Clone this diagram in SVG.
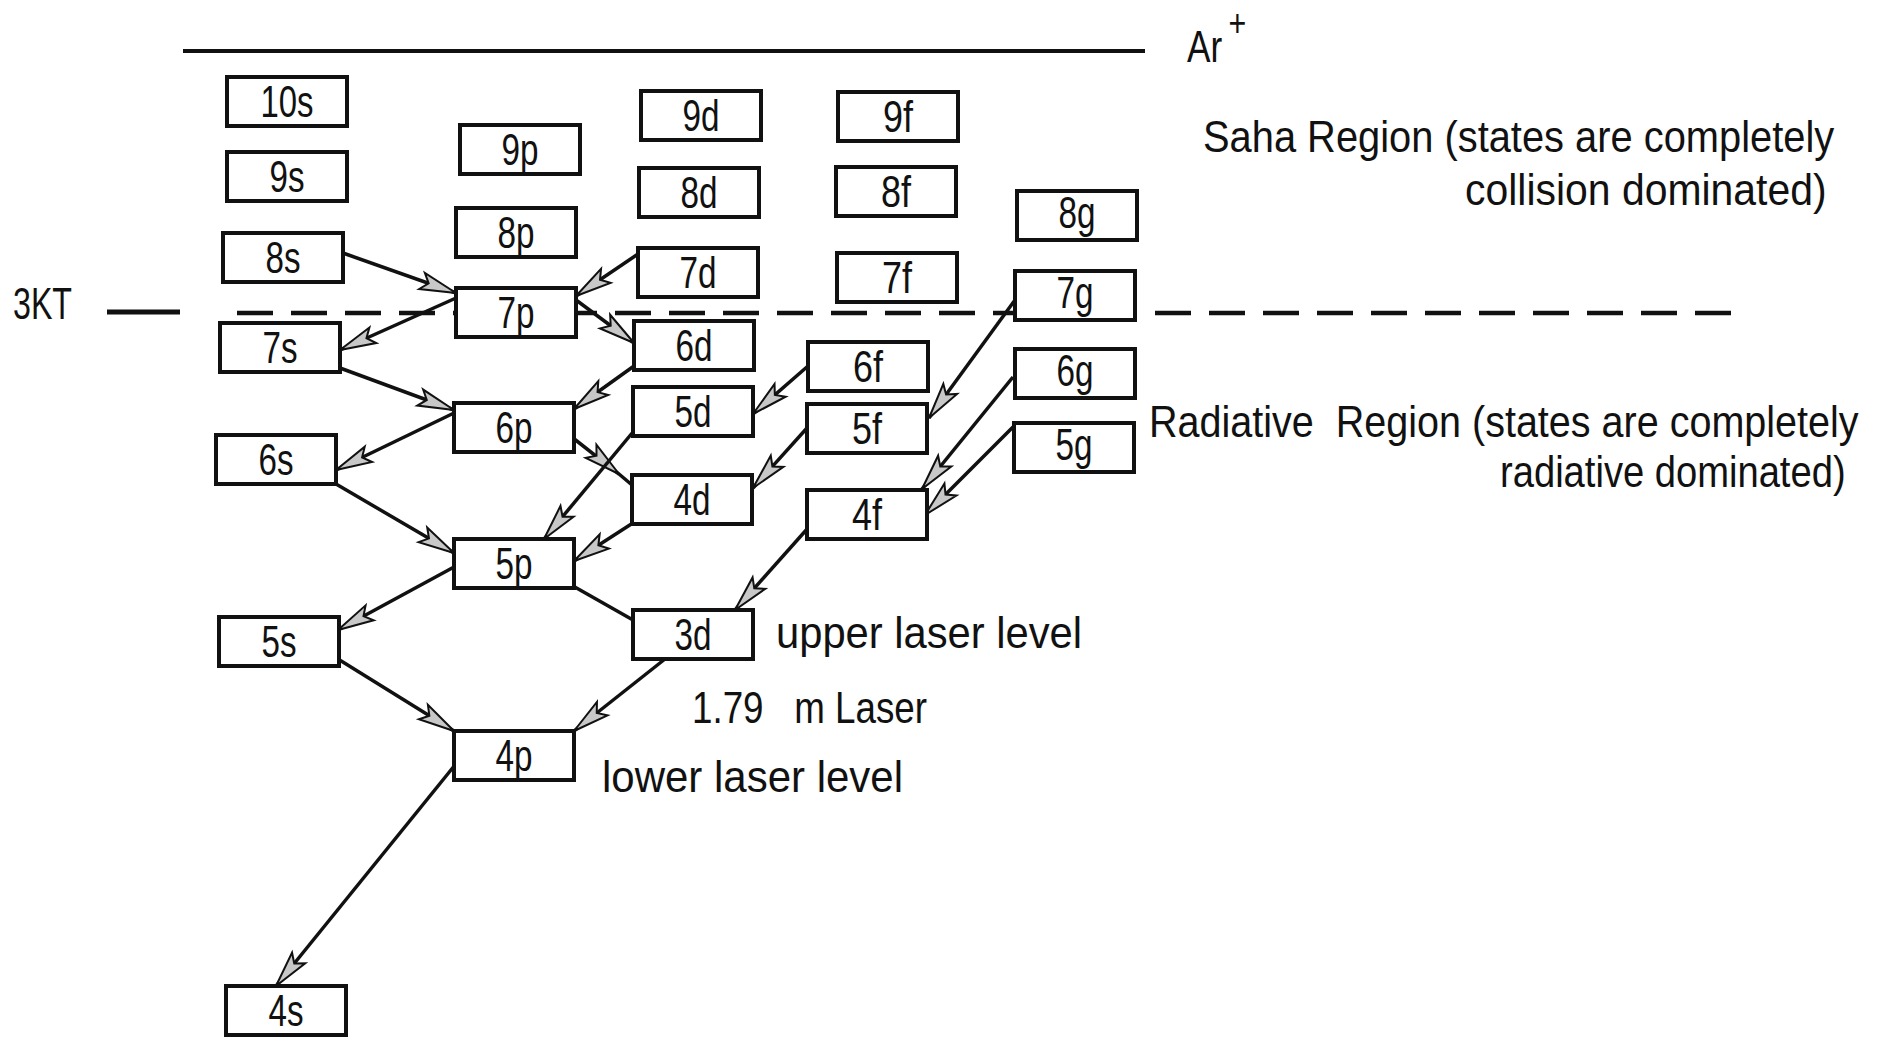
<svg xmlns="http://www.w3.org/2000/svg" width="1883" height="1039" viewBox="0 0 1883 1039">
<defs>
<style>
.box{fill:#fff;stroke:#111;stroke-width:4;}
.lbl{font-family:"Liberation Sans",Arial,sans-serif;font-size:44px;fill:#111;text-anchor:middle;}
.txt{font-family:"Liberation Sans",Arial,sans-serif;font-size:44px;fill:#111;}
.con{fill:none;stroke:#111;stroke-width:3.5;}
.arr{marker-end:url(#ah);}
</style>
<marker id="ah" markerUnits="userSpaceOnUse" markerWidth="44" markerHeight="24" viewBox="-40 -12 44 24" refX="0" refY="0" orient="auto">
<path d="M0,0 L-36,-8.5 L-29,0 L-36,8.5 Z" fill="#c8c8c8" stroke="#111" stroke-width="2" stroke-linejoin="miter"/>
</marker>
</defs>
<rect width="1883" height="1039" fill="#fff"/>

<g id="ion-limit">
<line x1="183" y1="51" x2="1145" y2="51" stroke="#111" stroke-width="4"/>
<text class="txt" transform="translate(1187,62) scale(0.8,1)">Ar<tspan dx="8" dy="-26" style="font-size:38px">+</tspan></text>
</g>

<g id="threshold-3kt">
<text class="txt" x="13" y="319" textLength="59" lengthAdjust="spacingAndGlyphs">3KT</text>
<line x1="107" y1="312" x2="180" y2="312" stroke="#111" stroke-width="5"/>
<line x1="237" y1="313" x2="1733" y2="313" stroke="#111" stroke-width="4.5" stroke-dasharray="36 18"/>
</g>

<g id="labels">
<text class="txt" transform="translate(1203,152) scale(0.8,1)" textLength="789" lengthAdjust="spacingAndGlyphs">Saha Region (states are completely</text>
<text class="txt" transform="translate(1465,205) scale(0.8,1)" textLength="452" lengthAdjust="spacingAndGlyphs">collision dominated)</text>
<text class="txt" xml:space="preserve" transform="translate(1149,437) scale(0.8,1)" textLength="887" lengthAdjust="spacingAndGlyphs">Radiative  Region (states are completely</text>
<text class="txt" transform="translate(1500,487) scale(0.8,1)" textLength="432" lengthAdjust="spacingAndGlyphs">radiative dominated)</text>
<text class="txt" x="776" y="648" textLength="306" lengthAdjust="spacingAndGlyphs">upper laser level</text>
<text class="txt" xml:space="preserve" x="692" y="723" textLength="235" lengthAdjust="spacingAndGlyphs">1.79   m Laser</text>
<text class="txt" x="602" y="792" textLength="301" lengthAdjust="spacingAndGlyphs">lower laser level</text>
</g>

<g id="connectors">
<path class="con arr" d="M343,253 L456,293"/>
<path class="con arr" d="M456,298 L340,350"/>
<path class="con arr" d="M638,254 L576,296"/>
<path class="con arr" d="M576,300 L634,343"/>
<path class="con arr" d="M340,368 L454,410"/>
<path class="con arr" d="M634,366 L574,409"/>
<path class="con arr" d="M454,413 L336,470"/>
<path class="con arr" d="M808,366 L753,414"/>
<path class="con" d="M573,438 L619,474 L632,485" style="marker-mid:url(#ah)"/>
<path class="con arr" d="M633,432 L544,539"/>
<path class="con arr" d="M807,428 L753,488"/>
<path class="con arr" d="M636,521 L574,561"/>
<path class="con arr" d="M336,484 L454,553"/>
<path class="con arr" d="M1015,300 L929,418"/>
<path class="con arr" d="M1013,377 L922,489"/>
<path class="con arr" d="M1013,427 L925,515"/>
<path class="con arr" d="M454,567 L338,630"/>
<path class="con" d="M573,586 L633,620"/>
<path class="con arr" d="M808,528 L735,610"/>
<path class="con arr" d="M338,659 L454,731"/>
<path class="con arr" d="M665,659 L574,731"/>
<path class="con arr" d="M455,765 L276,986"/>
</g>

<g id="n10s"><rect class="box" x="227" y="77" width="120" height="49"/><text class="lbl" x="287" y="117" textLength="53" lengthAdjust="spacingAndGlyphs">10s</text></g>
<g id="n9s"><rect class="box" x="227" y="152" width="120" height="49"/><text class="lbl" x="287" y="192" textLength="35" lengthAdjust="spacingAndGlyphs">9s</text></g>
<g id="n8s"><rect class="box" x="223" y="233" width="120" height="49"/><text class="lbl" x="283" y="273" textLength="35" lengthAdjust="spacingAndGlyphs">8s</text></g>
<g id="n7s"><rect class="box" x="220" y="323" width="120" height="49"/><text class="lbl" x="280" y="363" textLength="35" lengthAdjust="spacingAndGlyphs">7s</text></g>
<g id="n6s"><rect class="box" x="216" y="435" width="120" height="49"/><text class="lbl" x="276" y="475" textLength="35" lengthAdjust="spacingAndGlyphs">6s</text></g>
<g id="n5s"><rect class="box" x="219" y="617" width="120" height="49"/><text class="lbl" x="279" y="657" textLength="35" lengthAdjust="spacingAndGlyphs">5s</text></g>
<g id="n4s"><rect class="box" x="226" y="986" width="120" height="49"/><text class="lbl" x="286" y="1026" textLength="35" lengthAdjust="spacingAndGlyphs">4s</text></g>

<g id="n9p"><rect class="box" x="460" y="125" width="120" height="49"/><text class="lbl" x="520" y="165" textLength="37" lengthAdjust="spacingAndGlyphs">9p</text></g>
<g id="n8p"><rect class="box" x="456" y="208" width="120" height="49"/><text class="lbl" x="516" y="248" textLength="37" lengthAdjust="spacingAndGlyphs">8p</text></g>
<g id="n7p"><rect class="box" x="456" y="288" width="120" height="49"/><text class="lbl" x="516" y="328" textLength="37" lengthAdjust="spacingAndGlyphs">7p</text></g>
<g id="n6p"><rect class="box" x="454" y="403" width="120" height="49"/><text class="lbl" x="514" y="443" textLength="37" lengthAdjust="spacingAndGlyphs">6p</text></g>
<g id="n5p"><rect class="box" x="454" y="539" width="120" height="49"/><text class="lbl" x="514" y="579" textLength="37" lengthAdjust="spacingAndGlyphs">5p</text></g>
<g id="n4p"><rect class="box" x="454" y="731" width="120" height="49"/><text class="lbl" x="514" y="771" textLength="37" lengthAdjust="spacingAndGlyphs">4p</text></g>

<g id="n9d"><rect class="box" x="641" y="91" width="120" height="49"/><text class="lbl" x="701" y="131" textLength="37" lengthAdjust="spacingAndGlyphs">9d</text></g>
<g id="n8d"><rect class="box" x="639" y="168" width="120" height="49"/><text class="lbl" x="699" y="208" textLength="37" lengthAdjust="spacingAndGlyphs">8d</text></g>
<g id="n7d"><rect class="box" x="638" y="248" width="120" height="49"/><text class="lbl" x="698" y="288" textLength="37" lengthAdjust="spacingAndGlyphs">7d</text></g>
<g id="n6d"><rect class="box" x="634" y="321" width="120" height="49"/><text class="lbl" x="694" y="361" textLength="37" lengthAdjust="spacingAndGlyphs">6d</text></g>
<g id="n5d"><rect class="box" x="633" y="387" width="120" height="49"/><text class="lbl" x="693" y="427" textLength="37" lengthAdjust="spacingAndGlyphs">5d</text></g>
<g id="n4d"><rect class="box" x="632" y="475" width="120" height="49"/><text class="lbl" x="692" y="515" textLength="37" lengthAdjust="spacingAndGlyphs">4d</text></g>
<g id="n3d"><rect class="box" x="633" y="610" width="120" height="49"/><text class="lbl" x="693" y="650" textLength="37" lengthAdjust="spacingAndGlyphs">3d</text></g>

<g id="n9f"><rect class="box" x="838" y="92" width="120" height="49"/><text class="lbl" x="898" y="132" textLength="30" lengthAdjust="spacingAndGlyphs">9f</text></g>
<g id="n8f"><rect class="box" x="836" y="167" width="120" height="49"/><text class="lbl" x="896" y="207" textLength="30" lengthAdjust="spacingAndGlyphs">8f</text></g>
<g id="n7f"><rect class="box" x="837" y="253" width="120" height="49"/><text class="lbl" x="897" y="293" textLength="30" lengthAdjust="spacingAndGlyphs">7f</text></g>
<g id="n6f"><rect class="box" x="808" y="342" width="120" height="49"/><text class="lbl" x="868" y="382" textLength="30" lengthAdjust="spacingAndGlyphs">6f</text></g>
<g id="n5f"><rect class="box" x="807" y="404" width="120" height="49"/><text class="lbl" x="867" y="444" textLength="30" lengthAdjust="spacingAndGlyphs">5f</text></g>
<g id="n4f"><rect class="box" x="807" y="490" width="120" height="49"/><text class="lbl" x="867" y="530" textLength="30" lengthAdjust="spacingAndGlyphs">4f</text></g>

<g id="n8g"><rect class="box" x="1017" y="191" width="120" height="49"/><text class="lbl" x="1077" y="228" textLength="37" lengthAdjust="spacingAndGlyphs">8g</text></g>
<g id="n7g"><rect class="box" x="1015" y="271" width="120" height="49"/><text class="lbl" x="1075" y="308" textLength="37" lengthAdjust="spacingAndGlyphs">7g</text></g>
<g id="n6g"><rect class="box" x="1015" y="349" width="120" height="49"/><text class="lbl" x="1075" y="386" textLength="37" lengthAdjust="spacingAndGlyphs">6g</text></g>
<g id="n5g"><rect class="box" x="1014" y="423" width="120" height="49"/><text class="lbl" x="1074" y="460" textLength="37" lengthAdjust="spacingAndGlyphs">5g</text></g>
</svg>
